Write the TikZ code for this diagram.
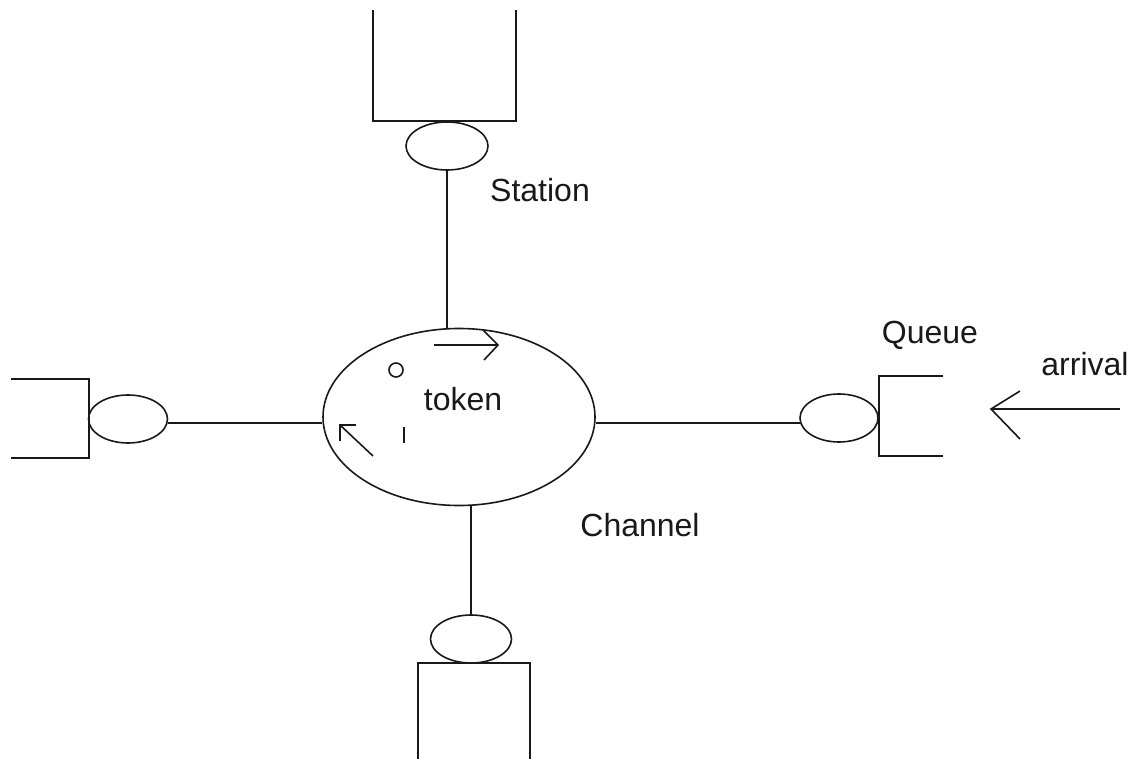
\documentclass[tikz,border=0pt]{standalone}
\usepackage{fontspec}
\setmainfont{Liberation Sans}
\usetikzlibrary{shapes.geometric,calc}
\begin{document}
\begin{tikzpicture}[x=1pt,y=-1pt,
  ln/.style={line width=1.6pt,draw=black!90},
  oval/.style={ellipse,ln,inner sep=0pt},
  lbl/.style={anchor=base,inner sep=0pt,font=\fontsize{32}{36}\selectfont,text=black!90}]
\useasboundingbox (0,0) rectangle (1140,759);
% central channel
\node[oval,minimum width=272pt,minimum height=177pt] (cen) at (459,417) {};
% station ellipses
\node[oval,minimum width=82pt,minimum height=48pt] (tE) at (447,146) {};
\node[oval,minimum width=81pt,minimum height=48pt] (bE) at (471,639) {};
\node[oval,minimum width=79pt,minimum height=48pt] (lE) at (128,419) {};
\node[oval,minimum width=78pt,minimum height=48pt] (rE) at (839,418) {};
% connectors
\draw[ln] (tE.south) -- (tE.south |- cen.north);
\draw[ln] (bE.north) -- (bE.north |- cen.south);
\draw[ln] ($(lE.east)+(-0.5,4)$) -- ($(lE.east -| cen.west)+(0,4)$);
\draw[ln] ($(cen.east |- rE.west)+(0,5)$) -- ($(rE.west)+(0.5,5)$);
% queues (open rectangles)
\draw[ln] (373,10) -- (373,121) -- (516,121) -- (516,10);
\draw[ln] (418,759) -- (418,663) -- (530,663) -- (530,759);
\draw[ln] (11,379) -- (89,379) -- (89,458) -- (11,458);
\draw[ln] (943,376) -- (879,376) -- (879,456) -- (943,456);
% arrival arrow
\coordinate (aS) at (1120,409);
\coordinate (aT) at (991,409);
\draw[ln] (aS) -- (aT);
\draw[ln] (1020,391) -- (aT) -- (1020,439);
% token symbols
\coordinate (t1) at (434,345);
\coordinate (t2) at (498,345);
\draw[ln] (t1) -- (t2);
\draw[ln] (483,330) -- (t2) -- (484,360);
\draw[ln] (396,370) circle (7pt);
\draw[ln] (404,427) -- (404,443);
\coordinate (d1) at (373,456);
\coordinate (d2) at (340,425);
\draw[ln] (d1) -- (d2);
\draw[ln] (356,425) -- (d2) -- (340,441);
% labels
\node[lbl] (station) at (540,202) {Station};
\node[lbl] (queue) at (930,343) {Queue};
\node[lbl] (arrival) at (1085,375) {arrival};
\node[lbl] (channel) at (640,536) {Channel};
\node[lbl] (token) at (463,410) {token};
\end{tikzpicture}
\end{document}
